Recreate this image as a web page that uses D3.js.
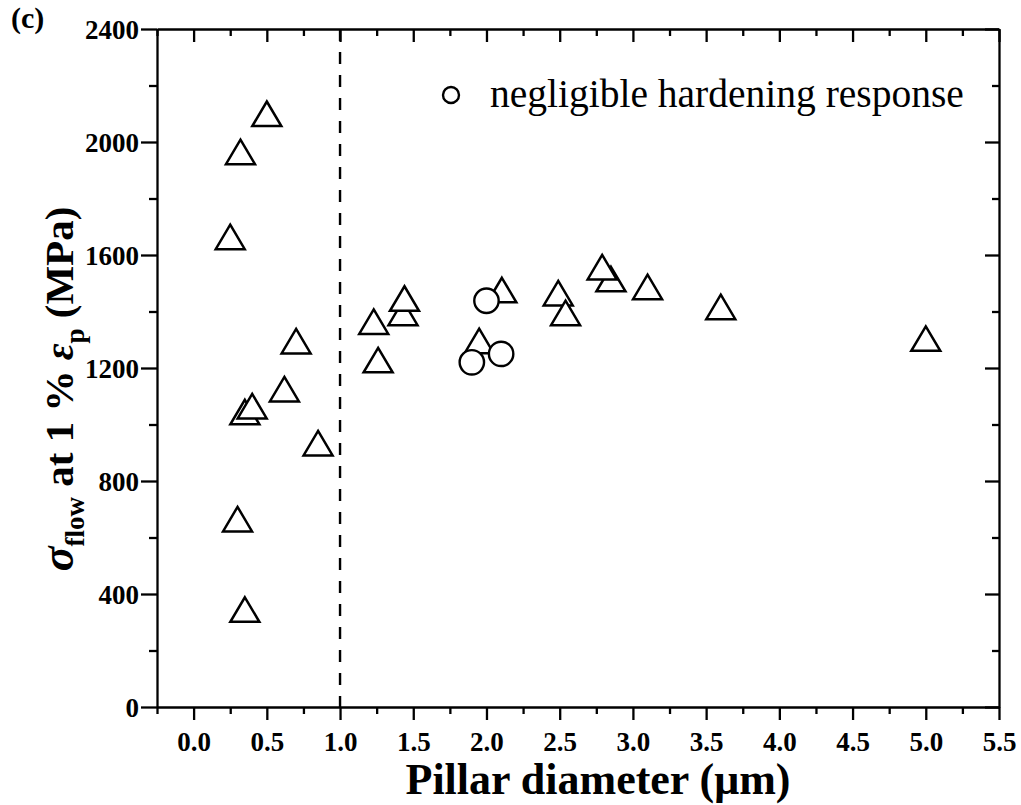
<!DOCTYPE html>
<html>
<head>
<meta charset="utf-8">
<script src="https://cdn.jsdelivr.net/npm/d3@7"></script>
<style>
  html, body { margin: 0; padding: 0; background: #fff; }
  svg { display: block; }
</style>
</head>
<body>
<svg id="chart" width="1021" height="805"></svg>
<script>
// Pillar diameter (µm) and flow stress at 1 % plastic strain (MPa)
const triangleDiameter = [0.50, 0.32, 0.25, 0.70, 0.62, 0.35, 0.40, 0.85, 0.30, 0.35,
                          1.23, 1.43, 1.44, 1.26, 2.105, 1.95, 2.49, 2.54, 2.85, 2.79, 3.10, 3.60, 5.00];
const triangleStress   = [2100, 1965, 1664, 1295, 1125, 1044, 1065, 934, 665, 345,
                          1364, 1395, 1446, 1228, 1476, 1296, 1465, 1395, 1515, 1557, 1487, 1416, 1304];

// Pillars with negligible hardening response
const circleDiameter = [2.00, 1.90, 2.10];
const circleStress   = [1438, 1220, 1250];

const xTickValues = [0.0, 0.5, 1.0, 1.5, 2.0, 2.5, 3.0, 3.5, 4.0, 4.5, 5.0, 5.5];
const yTickValues = [0, 400, 800, 1200, 1600, 2000, 2400];
const xDomain = [-0.25, 5.5];
const yDomain = [0, 2400];
const boundaryDiameter = 1.0;
const legendLabel = "negligible hardening response";

const svg = d3.select("#chart");
const plotLeft = 157, plotRight = 999, plotTop = 29, plotBottom = 707;

const x = d3.scaleLinear().domain(xDomain).range([plotLeft, plotRight]);
const y = d3.scaleLinear().domain(yDomain).range([plotBottom, plotTop]);

const serif = "'Liberation Serif', 'Times New Roman', serif";

// minor ticks
const xMinor = d3.range(-0.25, 5.5001, 0.5).map(v => +v.toFixed(2));
const yMinor = d3.range(200, 2400, 400);

const axisColor = "#000";
const axisW = 2.3;

// Bottom axis
const gB = svg.append("g").attr("transform", `translate(0,${plotBottom})`);
gB.call(d3.axisBottom(x).tickValues(xTickValues).tickSize(13).tickSizeOuter(0).tickFormat(d3.format(".1f")));
gB.append("g").call(d3.axisBottom(x).tickValues(xMinor).tickSize(7).tickFormat(""))
  .select(".domain").remove();

// Top axis (inward ticks)
const gT = svg.append("g").attr("transform", `translate(0,${plotTop})`);
gT.call(d3.axisBottom(x).tickValues(xTickValues).tickSize(13).tickSizeOuter(0).tickFormat(""));
gT.append("g").call(d3.axisBottom(x).tickValues(xMinor).tickSize(7).tickFormat(""))
  .select(".domain").remove();

// Left axis
const gL = svg.append("g").attr("transform", `translate(${plotLeft},0)`);
gL.call(d3.axisLeft(y).tickValues(yTickValues).tickSize(16).tickSizeOuter(0).tickPadding(2).tickFormat(d3.format("d")));
gL.append("g").call(d3.axisLeft(y).tickValues(yMinor).tickSize(8).tickFormat(""))
  .select(".domain").remove();

// Right axis (inward ticks)
const gR = svg.append("g").attr("transform", `translate(${plotRight},0)`);
gR.call(d3.axisLeft(y).tickValues(yTickValues).tickSize(14).tickSizeOuter(0).tickFormat(""));
gR.append("g").call(d3.axisLeft(y).tickValues(yMinor).tickSize(7).tickFormat(""))
  .select(".domain").remove();

svg.selectAll(".domain").attr("stroke", axisColor).attr("stroke-width", axisW);
svg.selectAll(".tick line").attr("stroke", axisColor).attr("stroke-width", axisW);
svg.selectAll(".tick text")
  .attr("font-family", serif).attr("font-weight", "bold").attr("font-size", 27).attr("fill", "#000");
gB.selectAll(".tick text").attr("dy", "1.05em");
gL.selectAll(".tick text").attr("dy", "0.34em");

// Size boundary at 1 µm
svg.append("line")
  .attr("x1", x(boundaryDiameter)).attr("x2", x(boundaryDiameter))
  .attr("y1", plotTop).attr("y2", plotBottom)
  .attr("stroke", "#000").attr("stroke-width", 2.4)
  .attr("stroke-dasharray", "12,11");

// Triangle markers
const triW = 14.5, triH = 12.25;
const triPath = `M0,${-triH}L${triW},${triH}L${-triW},${triH}Z`;
svg.append("g").selectAll("path")
  .data(triangleDiameter.map((d, i) => [d, triangleStress[i]]))
  .join("path")
  .attr("d", triPath)
  .attr("transform", d => `translate(${x(d[0])},${y(d[1])})`)
  .attr("fill", "#fff").attr("stroke", "#000").attr("stroke-width", 2.5)
  .attr("stroke-linejoin", "miter");

// Circle markers
svg.append("g").selectAll("circle")
  .data(circleDiameter.map((d, i) => [d, circleStress[i]]))
  .join("circle")
  .attr("cx", d => x(d[0])).attr("cy", d => y(d[1]))
  .attr("r", 12.2)
  .attr("fill", "#fff").attr("stroke", "#000").attr("stroke-width", 2.4);

// Legend
svg.append("circle").attr("cx", 451).attr("cy", 95).attr("r", 8)
  .attr("fill", "#fff").attr("stroke", "#000").attr("stroke-width", 2.4);
svg.append("text").attr("x", 490).attr("y", 107)
  .attr("font-family", serif).attr("font-size", 39.5).attr("fill", "#000")
  .text(legendLabel);

// Panel label
svg.append("text").attr("x", 11).attr("y", 28)
  .attr("font-family", serif).attr("font-weight", "bold").attr("font-size", 30)
  .text("(c)");

// X axis title
svg.append("text").attr("x", 598).attr("y", 794)
  .attr("text-anchor", "middle")
  .attr("font-family", serif).attr("font-weight", "bold").attr("font-size", 44)
  .text("Pillar diameter (\u03BCm)");

// Y axis title
const yt = svg.append("text")
  .attr("transform", "translate(73,389) rotate(-90)")
  .attr("text-anchor", "middle")
  .attr("font-family", serif).attr("font-weight", "bold").attr("font-size", 41);
yt.append("tspan").attr("font-style", "italic").attr("font-size", 46).text("\u03C3");
yt.append("tspan").attr("font-size", 27).attr("dy", 11).text("flow");
yt.append("tspan").attr("dy", -11).text(" at 1 % ");
yt.append("tspan").attr("font-style", "italic").text("\u03B5");
yt.append("tspan").attr("font-size", 27).attr("dy", 11).text("p");
yt.append("tspan").attr("dy", -11).text(" (MPa)");
</script>
</body>
</html>
